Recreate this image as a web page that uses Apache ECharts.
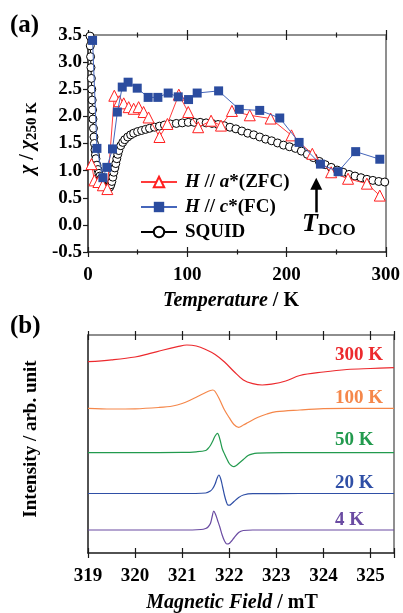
<!DOCTYPE html>
<html><head><meta charset="utf-8">
<script src="https://cdn.jsdelivr.net/npm/echarts@6/dist/echarts.min.js"></script>
<style>html,body{margin:0;padding:0;background:#fff}#c{width:403px;height:613px}</style>
</head><body><div id="c"></div>
<script>
const FONT = 'Liberation Serif';

// ---------- Panel (a) data ----------
const tSquid = [2,2.3,2.6,3,3.4,3.8,4.2,4.6,5,5.5,6,6.5,7,7.5,8,9,10,11,12,13,14,15,16,17,18,19,20,21,22,23,24,25,26,27,28,29,30,31,33,35,37,40,43,46,50,54,58,62,67,72,77,83,89,95,101,107,113,119,125,131,137,143,149,155,161,167,173,179,185,191,197,203,209,215,221,227,233,239,245,251,257,263,269,275,281,287,293,299];
const chiSquid = [3.48,3.3,3.1,2.9,2.7,2.5,2.3,2.12,1.95,1.78,1.62,1.5,1.38,1.29,1.22,1.1,1.02,0.95,0.9,0.85,0.81,0.77,0.74,0.71,0.69,0.68,0.67,0.68,0.7,0.74,0.8,0.88,0.97,1.05,1.13,1.22,1.3,1.37,1.46,1.52,1.57,1.62,1.66,1.69,1.72,1.74,1.76,1.78,1.8,1.82,1.84,1.86,1.87,1.88,1.89,1.89,1.89,1.88,1.87,1.85,1.83,1.8,1.77,1.73,1.69,1.66,1.62,1.58,1.55,1.51,1.47,1.44,1.41,1.36,1.3,1.24,1.17,1.11,1.06,1.01,0.97,0.93,0.9,0.87,0.84,0.82,0.8,0.79];
const tZfc = [3.5,6.5,10.5,15,19.5,26.5,31.5,36,41,46,51,56,61,72,80,91.5,101,111,124,134,145,163,184,205,226,245,262,281,294];
const chiZfc = [1.12,0.82,0.79,0.73,0.66,2.38,2.28,2.24,2.17,2.14,2.17,2.08,1.98,1.62,1.86,2.4,2.08,1.8,1.92,1.83,2.1,2.02,1.96,1.65,1.31,0.97,0.85,0.76,0.54];
const tFc = [4.6,9,15,19,24.7,29.6,34.5,40.4,49.6,60.6,70.4,80.8,90.9,101.3,110,131.6,152.4,173,193.2,212.7,234.2,252,269.7,294];
const chiFc = [3.4,1.41,0.87,1.06,1.4,2.08,2.54,2.63,2.52,2.35,2.35,2.43,2.36,2.31,2.43,2.47,2.13,2.11,1.97,1.52,1.12,0.98,1.35,1.21];
const tempTicksA = {min:0, max:300, interval:100};
const chiTicks = {min:-0.5, max:3.5, interval:0.5};
const tDco = 230; // arrow position (K)

// ---------- Panel (b) data (offset spectra, arb. units) ----------
const field300 = [319,319.5,320,320.3,320.6,320.9,321.1,321.3,321.5,321.7,321.9,322.1,322.3,322.5,322.7,322.9,323.2,323.5,324,324.5,325,325.5];
const int300   = [191.3,193.2,196,199.3,203,206.3,208,207,203.5,198.5,191,181.5,173,169.3,168,168.8,172,177.5,181,183.5,184.5,185.3];
const field100 = [319,319.5,320,320.5,320.8,321.0,321.2,321.35,321.5,321.6,321.65,321.7,321.8,321.9,322.0,322.1,322.2,322.3,322.4,322.6,322.8,323.0,323.5,324,324.5,325,325.5];
const int100   = [144.7,144,144.2,145.5,147,149.5,153.5,157,160.5,162.5,163,161.5,153,143,135.3,128.5,125.7,128,130.5,135.5,139,141.3,143,144.3,144.7,144.7,144.7];
const field50  = [319,320,321,321.3,321.5,321.55,321.6,321.65,321.7,321.75,321.8,321.85,321.9,321.95,322.0,322.05,322.1,322.15,322.2,322.3,322.4,322.5,322.6,322.8,323.5,324.5,325.5];
const int50    = [100.3,100.3,100.6,101.2,102.5,104.5,107.5,112,117,119.7,114,104.5,99,94,89.5,87.3,86.3,87.5,89.5,93.5,97.5,99.2,99.8,100.2,100.3,100.3,100.3];
const field20  = [319,320,321,321.5,321.6,321.65,321.7,321.74,321.78,321.82,321.86,321.9,321.94,321.97,322.0,322.05,322.1,322.2,322.3,322.5,323.5,325.5];
const int20    = [59.5,59.5,59.5,60,62,64.5,69,74.5,78,74,66,57.5,51,48,47.8,49.3,51.5,55.5,58,59.3,59.5,59.5];
const field4   = [319,320,321,321.4,321.5,321.55,321.6,321.64,321.67,321.71,321.75,321.8,321.85,321.9,321.95,322.0,322.05,322.1,322.2,322.3,322.5,323.5,325.5];
const int4     = [23,23,23,23.5,24.5,26,29.5,37,42,38.5,33,26,18,12,9,9.5,12,15,20.5,22.5,23,23,23];
const fieldTicks = {min:319, max:325.5, interval:1};
const specNames = ['300 K','100 K','50 K','20 K','4 K'];
const specColors = ['#ec2a2e','#f5874a','#229a4e','#2f4fa6','#6a4ba2'];

const zip = (a,b) => a.map((v,i)=>[v,b[i]]);

const dark = '#1a1a1a', grey = '#6a6a6a';
const lblStyle = {color:'#000', fontSize:19, fontWeight:'bold', fontFamily:FONT};
function xAx(grid, ticks, pos, opts) {
  return Object.assign({
    gridIndex:grid, type:'value', position:pos, min:ticks.min, max:ticks.max, interval:ticks.interval,
    axisLine:{show:false, onZero:false},
    axisTick:{show:true, inside:true, length:5, lineStyle:{color:dark, width:1.2}},
    axisLabel:{show:false},
    splitLine:{show:false}
  }, opts);
}

const chart = echarts.init(document.getElementById('c'));
chart.setOption({
  animation:false,
  backgroundColor:'#fff',
  textStyle:{fontFamily:FONT},
  grid:[
    {left:88, top:35, width:307, height:217},
    {left:88, top:335, width:306, height:218}
  ],
  xAxis:[
    xAx(0, tempTicksA, 'bottom', {
      axisLine:{show:true, onZero:false, lineStyle:{color:dark, width:1.5}},
      minorTick:{show:true, splitNumber:2, length:2.5, lineStyle:{color:dark, width:1.2}},
      axisLabel:Object.assign({margin:14}, lblStyle)}),
    xAx(0, tempTicksA, 'bottom', {axisTick:{show:true, inside:false, length:5, lineStyle:{color:dark, width:1.2}},
      minorTick:{show:true, splitNumber:2, length:2.5, lineStyle:{color:dark, width:1.2}}}),
    xAx(0, tempTicksA, 'top', {
      axisLine:{show:true, onZero:false, lineStyle:{color:grey, width:1.5}},
      minorTick:{show:true, splitNumber:2, length:2.5, lineStyle:{color:dark, width:1.2}}}),
    xAx(0, tempTicksA, 'top', {axisTick:{show:true, inside:false, length:5, lineStyle:{color:dark, width:1.2}},
      minorTick:{show:true, splitNumber:2, length:2.5, lineStyle:{color:dark, width:1.2}}}),
    xAx(1, fieldTicks, 'bottom', {
      axisLine:{show:true, onZero:false, lineStyle:{color:dark, width:1.5}},
      axisLabel:Object.assign({margin:14, formatter:v=>Number.isInteger(v)?String(v):''}, lblStyle)}),
    xAx(1, fieldTicks, 'bottom', {axisTick:{show:true, inside:false, length:5, lineStyle:{color:dark, width:1.2}}}),
    xAx(1, fieldTicks, 'top', {axisLine:{show:true, onZero:false, lineStyle:{color:grey, width:1.5}}}),
    xAx(1, fieldTicks, 'top', {axisTick:{show:true, inside:false, length:4, lineStyle:{color:dark, width:1.2}}})
  ],
  yAxis:[
    {gridIndex:0, type:'value', position:'left', min:chiTicks.min, max:chiTicks.max, interval:chiTicks.interval,
     axisLine:{show:true, onZero:false, lineStyle:{color:dark, width:1.5}},
     axisTick:{show:true, inside:false, length:5, lineStyle:{color:dark, width:1.2}},
     axisLabel:Object.assign({margin:6, formatter:v=>v.toFixed(1)}, lblStyle),
     splitLine:{show:false}},
    {gridIndex:0, type:'value', position:'right', min:chiTicks.min, max:chiTicks.max, interval:chiTicks.interval,
     axisLine:{show:true, onZero:false, lineStyle:{color:grey, width:1.5}},
     axisTick:{show:false}, axisLabel:{show:false}, splitLine:{show:false}},
    {gridIndex:1, type:'value', position:'left', min:0, max:218,
     axisLine:{show:true, onZero:false, lineStyle:{color:dark, width:1.5}},
     axisTick:{show:false}, axisLabel:{show:false}, splitLine:{show:false}},
    {gridIndex:1, type:'value', position:'right', min:0, max:218,
     axisLine:{show:true, onZero:false, lineStyle:{color:grey, width:1.5}},
     axisTick:{show:false}, axisLabel:{show:false}, splitLine:{show:false}}
  ],
  legend:{
    data:['ZFC','FC','SQUID'], orient:'vertical', left:135, top:167,
    itemWidth:36, itemHeight:13, itemGap:5, selectedMode:false,
    formatter: n => ({ZFC:'{i|H}{n| // }{i|a}{n|*(ZFC)}', FC:'{i|H}{n| // }{i|c}{n|*(FC)}', SQUID:'{n|SQUID}'}[n]),
    textStyle:{fontFamily:FONT, fontSize:19, fontWeight:'bold', color:'#000', lineHeight:20, padding:[0,0,0,3],
      rich:{
        i:{fontFamily:FONT, fontSize:19, fontWeight:'bold', fontStyle:'italic', color:'#000', lineHeight:20},
        n:{fontFamily:FONT, fontSize:19, fontWeight:'bold', color:'#000', lineHeight:20}
      }}
  },
  series:[
    {name:'SQUID', type:'line', xAxisIndex:0, yAxisIndex:0, data:zip(tSquid, chiSquid),
     symbol:'circle', symbolSize:8, showAllSymbol:true,
     itemStyle:{color:'#fff', borderColor:'#000', borderWidth:1},
     lineStyle:{color:'#000', width:1}, z:2,
     markLine:{silent:true, symbol:['none','triangle'], symbolSize:12,
       lineStyle:{color:'#000', width:2.5, type:'solid'}, label:{show:false},
       emphasis:{disabled:true},
       data:[[{coord:[tDco, 0.23], symbol:'none'}, {coord:[tDco, 0.76], symbol:'triangle', symbolSize:12}]]}},
    {name:'ZFC', type:'line', xAxisIndex:0, yAxisIndex:0, data:zip(tZfc, chiZfc),
     symbol:'triangle', symbolSize:11, showAllSymbol:true,
     itemStyle:{color:'#fff', borderColor:'#ff1f1f', borderWidth:1},
     lineStyle:{color:'#ff3b3b', width:1}, z:3},
    {name:'FC', type:'line', xAxisIndex:0, yAxisIndex:0, data:zip(tFc, chiFc),
     symbol:'rect', symbolSize:9, showAllSymbol:true,
     itemStyle:{color:'#2b4c9f'},
     lineStyle:{color:'#4566bb', width:1}, z:4},
    ...[[field300,int300],[field100,int100],[field50,int50],[field20,int20],[field4,int4]].map((d,k)=>({
      name:specNames[k], type:'line', xAxisIndex:4, yAxisIndex:2, data:zip(d[0], d[1]),
      showSymbol:false, smooth:0.35, lineStyle:{color:specColors[k], width:1.2}
    }))
  ],
  graphic:[
    {type:'text', x:10, y:26, style:{text:'(a)', font:'bold 25px "Liberation Serif"', fill:'#000', verticalAlign:'middle'}},
    {type:'text', x:10, y:327, style:{text:'(b)', font:'bold 25px "Liberation Serif"', fill:'#000', verticalAlign:'middle'}},
    {type:'text', x:231, y:301, style:{text:'{i|Temperature}{n| / K}', align:'center', verticalAlign:'middle',
      font:'bold 20px "Liberation Serif"', fill:'#000',
      rich:{i:{font:'italic bold 20px "Liberation Serif"', fill:'#000'}, n:{font:'bold 20px "Liberation Serif"', fill:'#000'}}}},
    {type:'text', x:232, y:603, style:{text:'{i|Magnetic Field}{n| / mT}', align:'center', verticalAlign:'middle',
      font:'bold 20px "Liberation Serif"', fill:'#000',
      rich:{i:{font:'italic bold 20px "Liberation Serif"', fill:'#000'}, n:{font:'bold 20px "Liberation Serif"', fill:'#000'}}}},
    {type:'text', x:28, y:138, rotation:Math.PI/2, style:{text:'{i|χ}{n| / }{i|χ}{s|250 K}', align:'center', verticalAlign:'middle',
      font:'bold 20px "Liberation Serif"', fill:'#000',
      rich:{i:{font:'italic bold 20px "Liberation Serif"', fill:'#000', lineHeight:24},
            n:{font:'bold 20px "Liberation Serif"', fill:'#000', lineHeight:24},
            s:{font:'bold 15px "Liberation Serif"', fill:'#000', lineHeight:14, verticalAlign:'bottom'}}}},
    {type:'text', x:31, y:439, rotation:Math.PI/2, style:{text:'Intensity / arb. unit', align:'center', verticalAlign:'middle',
      font:'bold 19px "Liberation Serif"', fill:'#000'}},
    {type:'text', x:302, y:224, style:{text:'T', font:'italic bold 26px "Liberation Serif"', fill:'#000', verticalAlign:'middle'}},
    {type:'text', x:318, y:231, style:{text:'DCO', font:'bold 17px "Liberation Serif"', fill:'#000', verticalAlign:'middle'}},
    ...specNames.map((s,k)=>({type:'text', x:335, y:[355.5,398.5,440.5,483.5,520][k],
      style:{text:s, font:'bold 19px "Liberation Serif"', fill:specColors[k], verticalAlign:'middle'}}))
  ]
});
</script></body></html>
